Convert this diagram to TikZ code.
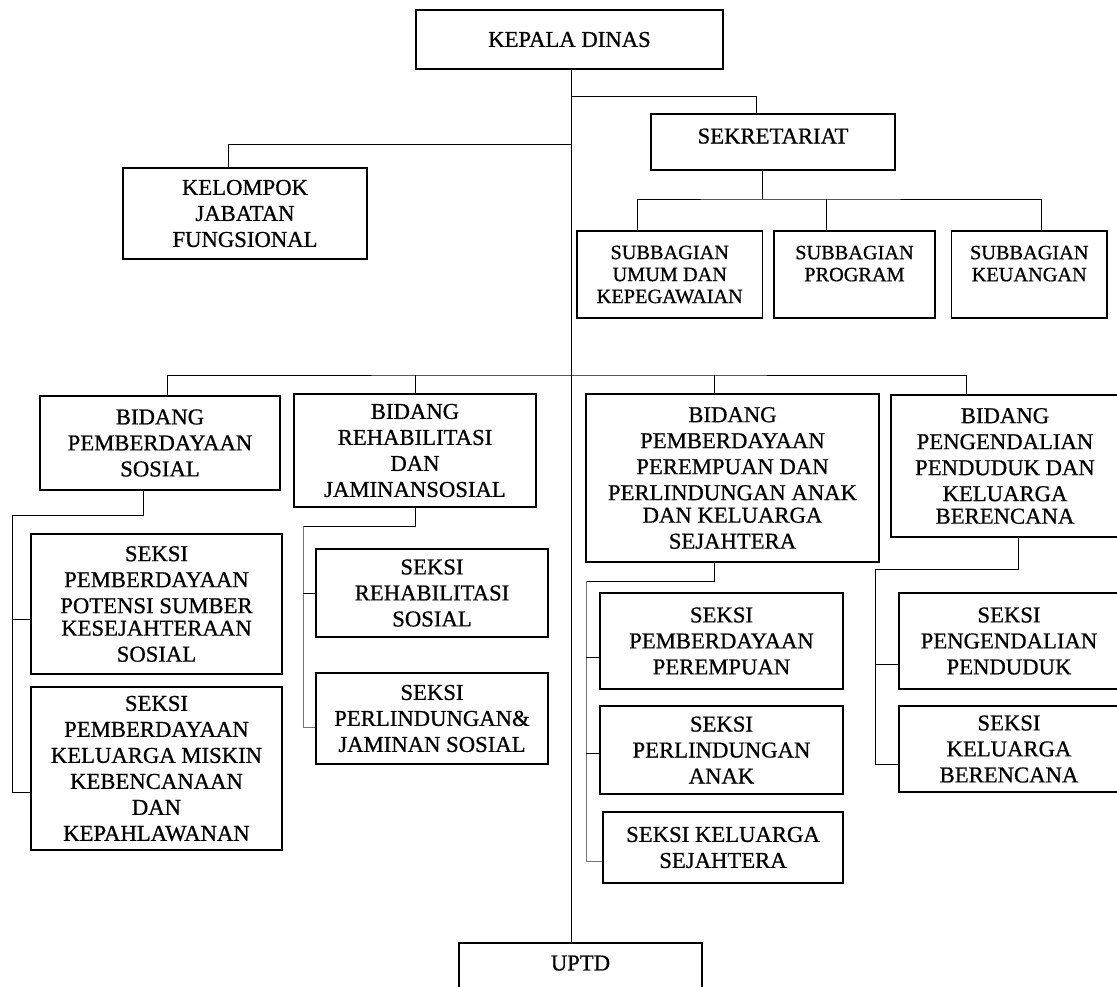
\documentclass[tikz,border=0pt]{standalone}
\usepackage{fontspec}
\setmainfont{Liberation Serif}[AutoFakeBold=0.7]
\usepackage{tikz}
\usetikzlibrary{positioning}
\tikzset{x=1pt, y=-1pt, line width=1.3pt, font=\fontsize{22.7}{26}\selectfont\bfseries}
\tikzstyle{block} = [draw, line width=1.5pt, fill=white, rectangle, inner sep=0pt, align=center]
\tikzstyle{subblock} = [block, font=\fontsize{20.3}{22}\selectfont\bfseries]
\tikzstyle{faint} = [draw=black!55]

\begin{document}
\begin{tikzpicture}
		\clip (0,0) rectangle (1117,987);
		% top level
		\node [block, minimum width=307pt, minimum height=59pt] (kepala) at (569.5,39.5) {KEPALA DINAS};
		\node [block, minimum width=244pt, minimum height=56pt, text depth=12pt] (sekretariat) at (773,142) {SEKRETARIAT};
		\node [block, minimum width=244pt, minimum height=91pt] (kelompok) at (245,213.5) {KELOMPOK\\JABATAN\\FUNGSIONAL};
		\node [subblock, minimum width=185.5pt, minimum height=87pt] (subumum) at (669.75,274.5) {SUBBAGIAN\\UMUM DAN\\KEPEGAWAIAN};
		\node [subblock, minimum width=161pt, minimum height=87pt] (subprogram) at (854.5,274.5) {SUBBAGIAN\\PROGRAM\\~};
		\node [subblock, minimum width=155.5pt, minimum height=87pt] (subkeuangan) at (1029.25,274.5) {SUBBAGIAN\\KEUANGAN\\~};

		% bidang
		\node [block, minimum width=240pt, minimum height=94pt] (bidsosial) at (160,443) {BIDANG\\PEMBERDAYAAN\\SOSIAL};
		\node [block, minimum width=242pt, minimum height=113pt] (bidrehab) at (415,450.5) {BIDANG\\REHABILITASI\\DAN\\JAMINANSOSIAL};
		\node [block, minimum width=293pt, minimum height=168pt] (bidpppa) at (732.5,478) {BIDANG\\PEMBERDAYAAN\\PEREMPUAN DAN\\PERLINDUNGAN ANAK\\[-3.5pt]DAN KELUARGA\\SEJAHTERA};
		\node [block, minimum width=228pt, minimum height=142pt] (bidppkb) at (1005,466) {BIDANG\\PENGENDALIAN\\PENDUDUK DAN\\KELUARGA\\[-3.5pt]BERENCANA};

		% seksi
		\node [block, minimum width=251pt, minimum height=140pt] (ppsks) at (156.5,604) {SEKSI\\PEMBERDAYAAN\\POTENSI SUMBER\\[-3.5pt]KESEJAHTERAAN\\SOSIAL};
		\node [block, minimum width=251pt, minimum height=163pt] (pkmkk) at (156.5,768.5) {SEKSI\\PEMBERDAYAAN\\KELUARGA MISKIN\\KEBENCANAAN\\DAN\\KEPAHLAWANAN};
		\node [block, minimum width=232pt, minimum height=88pt] (rehsos) at (432,593) {SEKSI\\REHABILITASI\\SOSIAL};
		\node [block, minimum width=232pt, minimum height=91pt] (perlind) at (432,718.5) {SEKSI\\PERLINDUNGAN\&\\JAMINAN SOSIAL};
		\node [block, minimum width=243pt, minimum height=96pt] (sekpp) at (721.5,641) {SEKSI\\PEMBERDAYAAN\\PEREMPUAN};
		\node [block, minimum width=243pt, minimum height=88pt] (sekpa) at (721.5,750) {SEKSI\\PERLINDUNGAN\\ANAK};
		\node [block, minimum width=240pt, minimum height=71pt] (sekks) at (723,847.5) {SEKSI KELUARGA\\SEJAHTERA};
		\node [block, minimum width=220pt, minimum height=96pt] (sekpend) at (1009,641) {SEKSI\\PENGENDALIAN\\PENDUDUK};
		\node [block, minimum width=220pt, minimum height=86pt] (sekkb) at (1009,749) {SEKSI\\KELUARGA\\BERENCANA};
		\node [block, minimum width=243pt, minimum height=80pt, text depth=40pt] (uptd) at (580.5,983) {UPTD};

		% junctions
		\coordinate (trunk) at (571,0);
		\coordinate (sekbar) at (571,96);
		\coordinate (kelbar) at (571,144);
		\coordinate (subbar) at (762.5,199);
		\coordinate (bidbar) at (571,375);
		\coordinate (sosleft) at (12,515);
		\coordinate (rehleft) at (303,526);
		\coordinate (pppaleft) at (586,581);
		\coordinate (ppkbleft) at (875,569);

		\draw (kepala.south -| trunk) -- (uptd.north -| trunk);
		\draw (sekbar) -| ([xshift=-17pt]sekretariat.north);
		\draw (kelbar) -| ([xshift=-17pt]kelompok.north);
		\draw ([xshift=-10.5pt]sekretariat.south) -- (subbar);
		\draw ([xshift=-33pt]subumum.north) |- (subbar) -| ([xshift=11.5pt]subkeuangan.north);
		\draw ([xshift=-28.5pt]subprogram.north) -- ([xshift=-28.5pt]subprogram.north |- subbar);

		\draw ([xshift=7pt]bidsosial.north) |- (bidbar) -| ([xshift=-39pt]bidppkb.north);
		\draw (bidrehab.north) -- (bidrehab.north |- bidbar);
		\draw ([xshift=-18.5pt]bidpppa.north) -- ([xshift=-18.5pt]bidpppa.north |- bidbar);

		\draw ([xshift=-17pt]bidsosial.south) |- (sosleft) |- ([yshift=-23.5pt]pkmkk.west);
		\draw ([yshift=-15pt]ppsks.west) -- ([yshift=-15pt]ppsks.west -| sosleft);

		\draw (bidrehab.south) |- (rehleft);
		\draw [faint] (rehleft) |- ([yshift=-8.5pt]perlind.west);
		\draw (rehsos.west) -- (rehsos.west -| rehleft);

		\draw ([xshift=-18.5pt]bidpppa.south) |- (pppaleft);
		\draw [faint] (pppaleft) |- ([yshift=-13.5pt]sekks.west);
		\draw ([yshift=-16pt]sekpp.west) -- ([yshift=-16pt]sekpp.west -| pppaleft);
		\draw ([yshift=-3pt]sekpa.west) -- ([yshift=-3pt]sekpa.west -| pppaleft);

		\draw ([xshift=13pt]bidppkb.south) |- (ppkbleft) |- ([yshift=-15pt]sekkb.west);
		\draw ([yshift=-23pt]sekpend.west) -- ([yshift=-23pt]sekpend.west -| ppkbleft);
	\end{tikzpicture}
\end{document}
